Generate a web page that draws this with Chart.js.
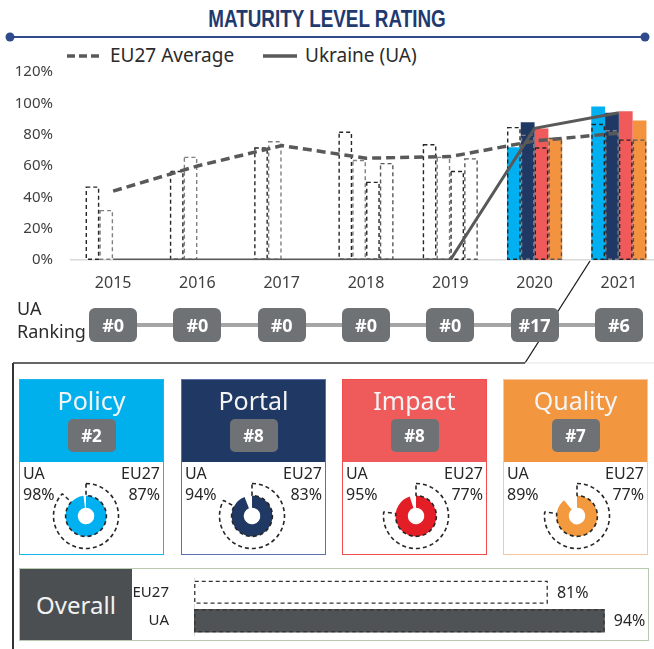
<!DOCTYPE html>
<html><head><meta charset="utf-8">
<script src="https://cdn.jsdelivr.net/npm/chart.js@4.4.1/dist/chart.umd.min.js"></script>
<style>
html,body{margin:0;padding:0;width:654px;height:649px;overflow:hidden;background:#fff;font-family:'Noto Sans',sans-serif;color:#262626;}
.abs{position:absolute;}
#title{left:0;width:654px;top:4px;text-align:center;font-weight:bold;font-size:23px;line-height:30px;font-family:'Liberation Sans',sans-serif;color:#1f3a6e;transform:scaleX(0.82);transform-origin:327px 0;}
.leg{font-size:19px;line-height:24px;top:43px;color:#2b2b2b;}
.rank{width:48px;height:34px;border-radius:6px;background:#6f7275;color:#fff;font-weight:bold;font-size:18px;line-height:34px;text-align:center;top:308px;}
.card{top:379px;width:143px;height:174px;border:1.5px solid #000;background:#fff;}
.card .hdr{position:absolute;left:0;top:0;width:100%;height:82px;}
.card .ttl{position:absolute;left:0;width:100%;top:5px;text-align:center;font-size:25px;line-height:31px;color:#f4f4f4;}
.card .rk{position:absolute;left:50%;margin-left:-24px;top:39px;width:48px;height:33px;border-radius:5px;background:#6f7275;color:#fff;font-weight:bold;font-size:17px;line-height:33px;text-align:center;}
.card .t{position:absolute;font-size:16px;line-height:20px;color:#262626;}
</style></head>
<body>
<div id="title" class="abs">MATURITY LEVEL RATING</div>
<svg class="abs" style="left:0;top:0" width="654" height="649" id="deco">
  <line x1="10" y1="37" x2="645" y2="37" stroke="#2f4b8c" stroke-width="2"/>
  <circle cx="10" cy="37" r="4.5" fill="#2f4b8c"/>
  <circle cx="645" cy="37" r="4.5" fill="#2f4b8c"/>
  <line x1="67" y1="56" x2="100" y2="56" stroke="#595959" stroke-width="3.5" stroke-dasharray="8,4"/>
  <line x1="263" y1="56" x2="297" y2="56" stroke="#595959" stroke-width="3.5"/>
</svg>
<div class="abs leg" style="left:110px">EU27 Average</div>
<div class="abs leg" style="left:305px">Ukraine (UA)</div>
<canvas id="main" class="abs" style="left:0;top:60px" width="664" height="240"></canvas>
<svg class="abs" style="left:0;top:0" width="654" height="649">
  <line id="conn" x1="113" y1="325" x2="619" y2="325" stroke="#a5a5a5" stroke-width="4"/>
  <line x1="590" y1="261" x2="525" y2="363" stroke="#1a1a1a" stroke-width="1.3"/>
  <line x1="13" y1="363" x2="525" y2="363" stroke="#333" stroke-width="1.5"/>
  <line x1="525" y1="363" x2="654" y2="363" stroke="#e3e3e3" stroke-width="1"/>
  <line x1="13" y1="363" x2="13" y2="649" stroke="#333" stroke-width="2"/>
</svg>
<div class="abs" style="left:17px;top:297px;font-size:18px;line-height:23px;color:#2b2b2b">UA<br>Ranking</div>
<div id="ranks"></div>
<div id="cards"></div>
<div class="abs" style="left:19px;top:568px;width:628px;height:71px;border:1px solid #b9cbb0;background:#fff"></div>
<div class="abs" style="left:20px;top:569px;width:112px;height:71px;background:#4b4f52;color:#f2f2f2;font-size:24px;line-height:71px;text-align:center">Overall</div>
<canvas id="overall" class="abs" style="left:133px;top:575px" width="515" height="63"></canvas>
<script>
// ---------- data ----------
const years = ['2015','2016','2017','2018','2019','2020','2021'];
const dims = ['Policy','Portal','Impact','Quality'];
const uaPolicy  = [0,0,0,0,0,72,98];
const uaPortal  = [0,0,0,0,0,88,94];
const uaImpact  = [0,0,0,0,0,84,95];
const uaQuality = [0,0,0,0,0,78,89];
const euPolicy  = [47,57,72,82,74,85,87];
const euPortal  = [32,66,76,64,66,80,83];
const euImpact  = [0,0,0,50,57,72,77];
const euQuality = [0,0,0,62,65,78,77];
const euAverage = [44,60,73,65,66,76,81];
const uaOverall = [0,0,0,0,0,84,94];
const yTicks = [0,20,40,60,80,100,120];
const uaRanking = ['#0','#0','#0','#0','#0','#17','#6'];
const cardRanks = ['#2','#8','#8','#7'];
const cardUA = [98,94,95,89];
const cardEU = [87,83,77,77];
const overallLabels = ['EU27','UA'];
const overallValues = [81,94];

// ---------- styles ----------
const barColors = ['#00b0f0','#203864','#f05a5a','#f4933f'];
const euOutlineColors = ['#262626','#808080','#262626','#595959'];
const hdrColors = ['#00b0ec','#203864','#ef5b5b','#f39640'];
const cardBorders = ['#19b5ee','#5c70ad','#f04d4d','#f8c6a0'];
const donutColors = ['#00b0f0','#203864','#e41e26','#f39a3e'];
const cardLefts = [19,181,342,503];
const donutCx = [86,252,416,577];

Chart.defaults.font.family = "'Noto Sans', sans-serif";
Chart.defaults.color = '#404040';
Chart.defaults.animation = false;
Chart.defaults.plugins.legend.display = false;
Chart.defaults.plugins.tooltip.enabled = false;

const dashedOutline = {
  id: 'dashedOutline',
  afterDatasetDraw(chart, args) {
    const ds = chart.data.datasets[args.index];
    if (!ds.outline) return;
    const ctx = chart.ctx;
    ctx.save();
    ctx.setLineDash(ds.outline.dash);
    ctx.lineWidth = ds.outline.width;
    const horiz = chart.options.indexAxis === 'y';
    args.meta.data.forEach((el, i) => {
      if (!ds.data[i]) return;
      const p = el.getProps(['x','y','base','width','height'], true);
      let l, t, w, h;
      if (horiz) { l = Math.min(p.base, p.x); w = Math.abs(p.x - p.base); t = p.y - p.height/2; h = p.height; }
      else { l = p.x - p.width/2; w = p.width; t = Math.min(p.y, p.base); h = Math.abs(p.base - p.y); }
      ctx.strokeStyle = Array.isArray(ds.outline.color) ? ds.outline.color[i] : ds.outline.color;
      ctx.strokeRect(l + 0.75, t + 0.75, w - 1.5, h - 1.5);
    });
    ctx.restore();
  }
};

const uaSeries = [uaPolicy, uaPortal, uaImpact, uaQuality];
const euSeries = [euPolicy, euPortal, euImpact, euQuality];

const mainChart = new Chart(document.getElementById('main'), {
  data: {
    labels: years,
    datasets: [
      {type:'line', label:'EU27 Average', data:euAverage, borderColor:'#595959', borderWidth:3.5, borderDash:[9,5], pointRadius:0, order:0},
      {type:'line', label:'Ukraine (UA)', data:uaOverall, borderColor:'#595959', borderWidth:3, pointRadius:0, order:0},
      ...uaSeries.map((d,i) => ({type:'bar', label:'UA '+dims[i], data:d, stack:dims[i], backgroundColor:barColors[i], borderWidth:0, order:2, categoryPercentage:0.655, barPercentage:1})),
      ...euSeries.map((d,i) => ({type:'bar', label:'EU27 '+dims[i], data:d, stack:dims[i], backgroundColor:'rgba(0,0,0,0)', borderWidth:0, order:1, categoryPercentage:0.655, barPercentage:1,
          outline:{color:euOutlineColors[i], width:1.4, dash:[4,3]}}))
    ]
  },
  options: {
    responsive:false,
    layout:{padding:{top:12, right:3, left:0, bottom:0}},
    scales: {
      x: {stacked:true, offset:true, grid:{display:false, drawTicks:false}, border:{display:true, color:'#d9d9d9', width:1.5},
          ticks:{padding:14, font:{size:16}, color:'#404040'}, afterFit(s){ s.height = 40; s.paddingLeft = 0; s.paddingRight = 0; }},
      y: {stacked:false, min:0, max:120, afterBuildTicks(s){ s.ticks = yTicks.map(v => ({value:v})); },
          ticks:{padding:18, font:{size:15}, color:'#404040', callback:v => v + '%'},
          grid:{display:false, drawTicks:false}, border:{display:false},
          afterFit(s){ s.width = 71; s.paddingTop = 0; s.paddingBottom = 0; }}
    }
  },
  plugins:[dashedOutline]
});

// ranking boxes positioned from the x scale
(function(){
  const xs = mainChart.scales.x;
  const wrap = document.getElementById('ranks');
  let first = null, last = null;
  uaRanking.forEach((r,i) => {
    const cx = xs.getPixelForValue(i);
    if (first === null) first = cx; last = cx;
    const d = document.createElement('div');
    d.className = 'abs rank';
    d.style.left = (cx - 24) + 'px';
    d.textContent = r;
    wrap.appendChild(d);
  });
  const c = document.getElementById('conn');
  c.setAttribute('x1', first); c.setAttribute('x2', last);
})();

// cards
const cardsWrap = document.getElementById('cards');
dims.forEach((name,i) => {
  const card = document.createElement('div');
  card.className = 'abs card';
  card.style.left = cardLefts[i] + 'px';
  card.style.borderColor = cardBorders[i];
  card.innerHTML =
    '<div class="hdr" style="background:'+hdrColors[i]+'"><div class="ttl">'+name+'</div><div class="rk">'+cardRanks[i]+'</div></div>' +
    '<div class="t" style="left:3px;top:83px">UA</div>' +
    '<div class="t" style="left:3px;top:104px">'+cardUA[i]+'%</div>' +
    '<div class="t" style="right:3px;top:83px">EU27</div>' +
    '<div class="t" style="right:3px;top:104px">'+cardEU[i]+'%</div>';
  cardsWrap.appendChild(card);
  const cv = document.createElement('canvas');
  cv.className = 'abs';
  cv.width = 72; cv.height = 72;
  cv.style.left = (donutCx[i] - 36) + 'px';
  cv.style.top = (516 - 36) + 'px';
  document.body.appendChild(cv);
  new Chart(cv, {
    type:'doughnut',
    data:{ labels:['value','rest'], datasets:[
      {data:[cardEU[i], 100 - cardEU[i]], backgroundColor:['rgba(0,0,0,0)','rgba(0,0,0,0)'], borderColor:['#262626','rgba(0,0,0,0)'], borderWidth:[1.6,0], borderDash:[4,3], borderAlign:'center'},
      {data:[cardUA[i], 100 - cardUA[i]], backgroundColor:[donutColors[i],'rgba(0,0,0,0)'], borderWidth:0}
    ]},
    options:{responsive:false, radius:32.5, cutout:'25.5%', layout:{padding:0}}
  });
});

// overall bars
const valueLabels = {
  id:'valueLabels',
  afterDatasetsDraw(chart){
    const ctx = chart.ctx;
    const meta = chart.getDatasetMeta(0);
    ctx.save();
    ctx.font = "16px 'Noto Sans', sans-serif";
    ctx.fillStyle = '#262626';
    ctx.textBaseline = 'middle';
    meta.data.forEach((el,i) => {
      ctx.fillText(chart.data.datasets[0].data[i] + '%', el.x + 9, el.y + 1);
    });
    ctx.restore();
  }
};
new Chart(document.getElementById('overall'), {
  type:'bar',
  data:{ labels: overallLabels, datasets:[{data: overallValues, backgroundColor:['#ffffff','#505356'], borderWidth:0,
     categoryPercentage:1, barPercentage:0.82, outline:{color:'#333', width:1.3, dash:[4,3]}}]},
  options:{
    indexAxis:'y', responsive:false,
    layout:{padding:{top:3, bottom:3, right:17, left:0}},
    scales:{
      x:{display:false, min:0, max:100},
      y:{grid:{display:false, drawTicks:false}, border:{display:true, color:'#d9d9d9'},
         ticks:{padding:25, font:{size:15}, color:'#262626'},
         afterFit(s){ s.width = 61; s.paddingTop = 0; s.paddingBottom = 0; }}
    }
  },
  plugins:[dashedOutline, valueLabels]
});
</script>
</body></html>
